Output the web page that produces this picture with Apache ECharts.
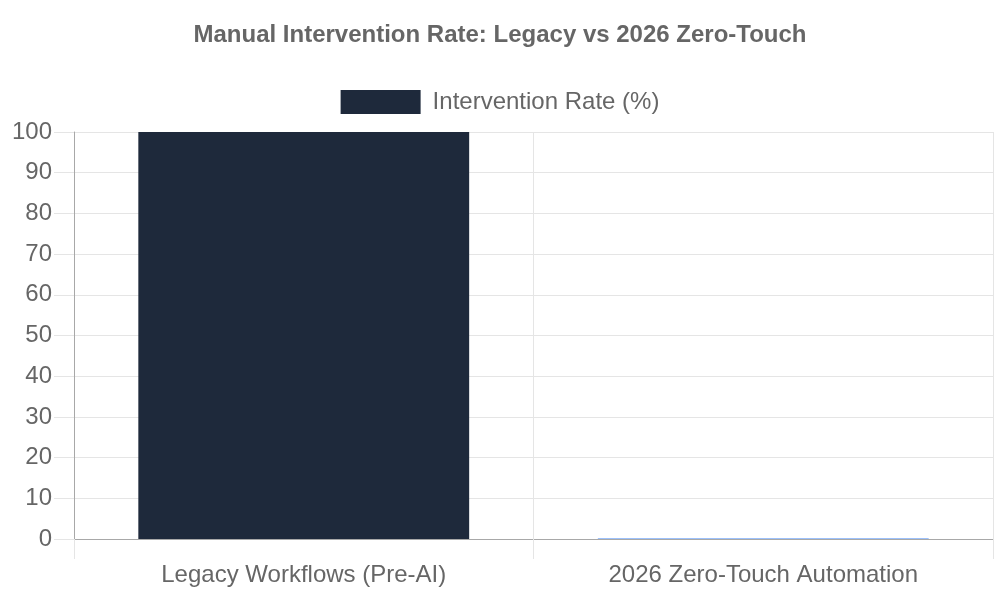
<!DOCTYPE html>
<html>
<head>
<meta charset="utf-8">
<script src="https://cdn.jsdelivr.net/npm/echarts@6/dist/echarts.min.js"></script>
<style>html,body{margin:0;padding:0;background:#fff}#c{width:1000px;height:600px}</style>
</head>
<body>
<div id="c"></div>
<script>
const titleText = 'Manual Intervention Rate: Legacy vs 2026 Zero-Touch';
const seriesName = 'Intervention Rate (%)';
const categories = ['Legacy Workflows (Pre-AI)', '2026 Zero-Touch Automation'];
const values = [100, 0.1];
const barColors = ['#1e293b', '#3b82f6'];

const chart = echarts.init(document.getElementById('c'));
const font = 'Liberation Sans, Arial, sans-serif';
chart.setOption({
  animation: false,
  textStyle: { fontFamily: font },
  title: {
    text: titleText, left: 'center', top: 18,
    textStyle: { fontFamily: font, fontSize: 24, fontWeight: 'bold', color: '#666' }
  },
  legend: {
    top: 85, left: 'center', itemWidth: 80, itemHeight: 24, itemGap: 10,
    icon: 'rect',
    textStyle: { fontFamily: font, fontSize: 24, color: '#666', padding: [0, 0, 0, 7] },
    data: [{ name: seriesName, itemStyle: { color: barColors[0] } }]
  },
  grid: { left: 74, right: 7, top: 132, bottom: 61, containLabel: false },
  xAxis: {
    type: 'category', data: categories,
    axisLine: { lineStyle: { color: '#a8a8a8', width: 1 } },
    axisTick: { show: true, length: 20, lineStyle: { color: '#e5e5e5' } },
    splitLine: { show: true, lineStyle: { color: '#e5e5e5' } },
    axisLabel: { fontFamily: font, fontSize: 24, color: '#666', margin: 24 }
  },
  yAxis: {
    type: 'value', min: 0, max: 100, interval: 10,
    axisLine: { show: true, lineStyle: { color: '#a8a8a8' } },
    axisTick: { show: true, length: 20, lineStyle: { color: '#e5e5e5' } },
    splitLine: { show: true, lineStyle: { color: '#e5e5e5' } },
    axisLabel: { fontFamily: font, fontSize: 24, color: '#666', margin: 22 }
  },
  series: [{
    name: seriesName, type: 'bar', barWidth: '72%',
    data: values.map((v, i) => ({ value: v, itemStyle: { color: barColors[i] } })),
    itemStyle: { color: barColors[0] }
  }]
});
</script>
</body>
</html>
